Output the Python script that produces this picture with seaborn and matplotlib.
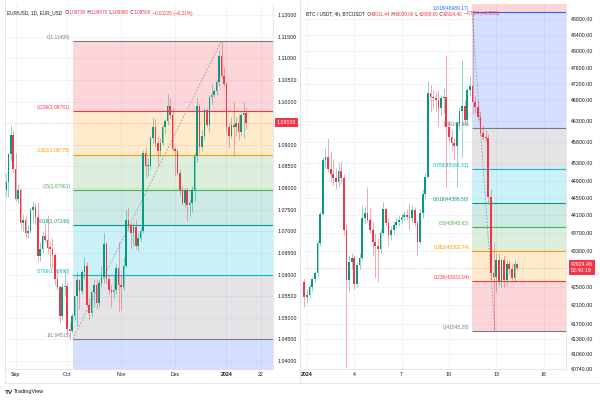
import numpy as np
import matplotlib
matplotlib.use("Agg")
import matplotlib.pyplot as plt
from matplotlib.ticker import NullLocator
import seaborn as sns

# ---------------- data : EUR/USD daily (Aug 28 2023 .. Jan 12 2024) ----------------
eur_open = [1.0795, 1.0815, 1.0878, 1.0923, 1.0845,
            1.0775, 1.0795, 1.0720, 1.0725, 1.0695, 1.0700, 1.0750, 1.0755, 1.0733, 1.0643,
            1.0658, 1.0690, 1.0680, 1.0662, 1.0660, 1.0645, 1.0590, 1.0570, 1.0505, 1.0570,
            1.0573, 1.0475, 1.0470, 1.0503, 1.0550, 1.0588, 1.0563, 1.0605, 1.0620, 1.0530,
            1.0510, 1.0560, 1.0575, 1.0535, 1.0580, 1.0595, 1.0670, 1.0590, 1.0565, 1.0560,
            1.0565, 1.0615, 1.0575, 1.0570, 1.0620, 1.0727, 1.0715, 1.0695, 1.0710, 1.0665,
            1.0685, 1.0700, 1.0880, 1.0850, 1.0852, 1.0915, 1.0940, 1.0905, 1.0885, 1.0905,
            1.0940, 1.0955, 1.0990, 1.0970, 1.0890, 1.0885, 1.0835, 1.0795, 1.0765, 1.0795,
            1.0760, 1.0765, 1.0795, 1.0875, 1.0990, 1.0895, 1.0920, 1.0980, 1.0945, 1.1010,
            1.1015, 1.1025, 1.1045, 1.1105, 1.1060, 1.1040, 1.0942, 1.0920, 1.0945, 1.0940,
            1.0950, 1.0930, 1.0970, 1.09736]
eur_high = [1.0835, 1.0882, 1.0946, 1.0932, 1.0882,
            1.0810, 1.0800, 1.0740, 1.0735, 1.0715, 1.0755, 1.0770, 1.0765, 1.0768, 1.0675,
            1.0700, 1.0718, 1.0737, 1.0675, 1.0685, 1.0650, 1.0610, 1.0575, 1.0580, 1.0610,
            1.0580, 1.0490, 1.0510, 1.0550, 1.0605, 1.0590, 1.0610, 1.0640, 1.0630, 1.0545,
            1.0565, 1.0590, 1.0590, 1.0590, 1.0620, 1.0695, 1.0675, 1.0600, 1.0575, 1.0600,
            1.0625, 1.0675, 1.0600, 1.0640, 1.0750, 1.0755, 1.0720, 1.0720, 1.0725, 1.0695,
            1.0710, 1.0887, 1.0895, 1.0870, 1.0920, 1.0965, 1.0960, 1.0920, 1.0915, 1.0945,
            1.0960, 1.1017, 1.1009, 1.0985, 1.0895, 1.0890, 1.0845, 1.0805, 1.0800, 1.0800,
            1.0775, 1.0805, 1.0880, 1.1009, 1.0995, 1.0935, 1.0985, 1.0985, 1.1015, 1.1040,
            1.1030, 1.1050, 1.1120, 1.1140, 1.1080, 1.1046, 1.0950, 1.0965, 1.0998, 1.0965,
            1.0970, 1.0975, 1.0999, 1.09870]
eur_low = [1.0780, 1.0780, 1.0862, 1.0835, 1.0770,
           1.0765, 1.0705, 1.0700, 1.0685, 1.0685, 1.0695, 1.0720, 1.0715, 1.0630, 1.0632,
           1.0650, 1.0675, 1.0650, 1.0615, 1.0615, 1.0575, 1.0565, 1.0488, 1.0495, 1.0550,
           1.0465, 1.0448, 1.0465, 1.0495, 1.0480, 1.0520, 1.0555, 1.0590, 1.0525, 1.0495,
           1.0505, 1.0525, 1.0520, 1.0525, 1.0570, 1.0580, 1.0580, 1.0555, 1.0525, 1.0545,
           1.0555, 1.0516, 1.0517, 1.0565, 1.0615, 1.0700, 1.0660, 1.0665, 1.0660, 1.0655,
           1.0675, 1.0695, 1.0825, 1.0828, 1.0845, 1.0905, 1.0895, 1.0852, 1.0875, 1.0900,
           1.0925, 1.0945, 1.0960, 1.0885, 1.0828, 1.0830, 1.0785, 1.0760, 1.0755, 1.0723,
           1.0735, 1.0745, 1.0770, 1.0860, 1.0880, 1.0885, 1.0910, 1.0940, 1.0930, 1.0995,
           1.1010, 1.1015, 1.1035, 1.1055, 1.1035, 1.0930, 1.0892, 1.0915, 1.0877, 1.0920,
           1.0910, 1.0920, 1.0915, 1.09360]
eur_close = [1.0815, 1.0878, 1.0923, 1.0845, 1.0775,
             1.0795, 1.0720, 1.0725, 1.0695, 1.0700, 1.0750, 1.0755, 1.0733, 1.0643, 1.0658,
             1.0690, 1.0680, 1.0662, 1.0660, 1.0645, 1.0590, 1.0570, 1.0505, 1.0570, 1.0573,
             1.0475, 1.0470, 1.0503, 1.0550, 1.0588, 1.0563, 1.0605, 1.0620, 1.0530, 1.0510,
             1.0560, 1.0575, 1.0535, 1.0580, 1.0595, 1.0670, 1.0590, 1.0565, 1.0560, 1.0565,
             1.0615, 1.0575, 1.0570, 1.0620, 1.0727, 1.0715, 1.0695, 1.0710, 1.0665, 1.0685,
             1.0700, 1.0880, 1.0850, 1.0852, 1.0915, 1.0940, 1.0905, 1.0885, 1.0905, 1.0940,
             1.0955, 1.0990, 1.0970, 1.0890, 1.0885, 1.0835, 1.0795, 1.0765, 1.0795, 1.0760,
             1.0765, 1.0795, 1.0875, 1.0990, 1.0895, 1.0920, 1.0980, 1.0945, 1.1010, 1.1015,
             1.1025, 1.1045, 1.1105, 1.1060, 1.1040, 1.0942, 1.0920, 1.0945, 1.0940, 1.0950,
             1.0930, 1.0970, 1.0974, 1.09508]
eur_first_index = -4          # Aug 28 is 4 trading days before Sep 1
eur_tick_pos = [0, 21, 43, 65, 86, 100]
eur_tick_labels = ["Sep", "Oct", "Nov", "Dec", "2024", "22"]
eur_yticks = [1.040, 1.045, 1.050, 1.055, 1.060, 1.065, 1.070, 1.075, 1.080, 1.085,
              1.090, 1.100, 1.105, 1.110, 1.115, 1.120]
eur_fib_ratios = [0, 0.236, 0.382, 0.5, 0.618, 0.786, 1, 1.618]
eur_fib_values = [1.11408, 1.09781, 1.08775, 1.07961, 1.07148, 1.05990, 1.04515, 1.00255]
eur_fib_anchor = [23.4, 84]          # bar positions of the two fib anchors
eur_last = 1.09508
eur_header = [("EUR/USD, 1D, EUR_USD ", "d"), (" O", "d"), ("1.09736", "r"), (" H", "d"),
              ("1.09870", "r"), (" L", "d"), ("1.09360", "r"), (" C", "d"),
              ("1.09508", "r"), (" \u22120.00228 (\u22120.21%)", "r")]

# ---------------- data : BTC/USDT 4h (Dec 31 20:00 .. Jan 14 08:00) ----------------
btc_open = [42620, 42290, 42320, 42490, 42680, 42800, 43470, 44130, 45380, 45460,
            45180, 45050, 44950, 44870, 45120, 44950, 43780, 42650, 43060, 43150,
            42570, 42980, 43150, 44040, 44150, 44000, 43770, 43500, 43400, 43350,
            43700, 44250, 43920, 43660, 43780, 43885, 43960, 44000, 44075, 44110,
            44075, 44040, 44225, 43920, 43510, 44150, 44600, 44990, 46980, 46890,
            46850, 46810, 46610, 46850, 46890, 46150, 45930, 45770, 45700, 46260,
            46550, 46670, 46330, 47050, 47150, 46770, 46650, 46400, 46020, 45930,
            45900, 44530, 42800, 42720, 43100, 42620, 43100, 42655, 43000, 42900,
            42690, 43011.44]
btc_high = [42700, 42450, 42560, 42720, 42860, 43550, 44200, 45450, 45660, 45900,
            45600, 45400, 45200, 45300, 45350, 45050, 43900, 43200, 43250, 43200,
            43050, 43250, 44340, 44300, 44750, 44300, 43950, 43700, 43600, 43800,
            44400, 44300, 44050, 43850, 43950, 44050, 44100, 44150, 44200, 44250,
            44380, 44350, 44300, 44000, 44250, 44700, 45100, 47260, 47180, 47050,
            47000, 47053, 46950, 47100, 47900, 46300, 46100, 45900, 46300, 46650,
            47800, 46800, 47100, 47400, 49048, 46900, 46800, 46550, 46200, 46100,
            46000, 44700, 43470, 43250, 43250, 43150, 43200, 43100, 43100, 43000,
            43100, 43030.00]
btc_low = [42070, 42180, 42250, 42420, 42600, 42750, 43400, 44100, 45200, 45100,
           44900, 44800, 44700, 44750, 44850, 43650, 40750, 42400, 42900, 42450,
           42500, 42900, 43100, 43900, 43950, 43700, 43180, 42700, 42600, 43250,
           43650, 43850, 43400, 43550, 43650, 43800, 43850, 43900, 43980, 44000,
           43770, 43950, 43850, 43200, 43450, 44050, 44500, 44950, 46510, 46600,
           46550, 46190, 46450, 46500, 44760, 45800, 45600, 45380, 44760, 46100,
           45450, 46200, 46200, 46900, 46500, 46500, 46300, 45950, 45850, 45800,
           44400, 42600, 41545, 42400, 42550, 42500, 42500, 42550, 42800, 42650,
           42600, 42888.00]
btc_close = [42290, 42320, 42490, 42680, 42800, 43470, 44130, 45380, 45460, 45180,
             45050, 44950, 44870, 45120, 44950, 43780, 42650, 43060, 43150, 42570,
             42980, 43150, 44040, 44150, 44000, 43770, 43500, 43400, 43350, 43700,
             44250, 43920, 43660, 43780, 43885, 43960, 44000, 44075, 44110, 44075,
             44040, 44225, 43920, 43510, 44150, 44600, 44990, 46980, 46890, 46850,
             46810, 46610, 46850, 46890, 46150, 45930, 45770, 45700, 46260, 46550,
             46670, 46330, 47050, 47150, 46770, 46650, 46400, 46020, 45930, 45900,
             44530, 42800, 42720, 43100, 42620, 43100, 42655, 43000, 42900, 42690,
             43011.44, 42924.40]
btc_first_index = -1          # first bar: Dec 31 20:00 (index 0 = Jan 1 00:00)
btc_tick_pos = [0, 18, 36, 54, 72, 90]
btc_tick_labels = ["2024", "4", "7", "10", "13", "16"]
btc_yticks = [48800, 48400, 48000, 47600, 47200, 46800, 46300, 45800, 45300, 44900,
              44500, 44100, 43700, 43300, 42500, 42100, 41700, 41380, 41060, 40740]
btc_fib_ratios = [0, 0.236, 0.382, 0.5, 0.618, 0.786, 1, 1.618, 2.618]
btc_fib_values = [41545.28, 42631.04, 43302.74, 43845.62, 44388.50, 45161.41,
                  46145.96, 48989.17, 53590.06]
btc_fib_anchor = [62.8, 71.5]
btc_last = 42924.40
btc_header = [("BTC / USDT, 4h, BTCUSDT ", "d"), (" O", "d"), ("43011.44", "r"), (" H", "d"),
              ("43030.00", "r"), (" L", "d"), ("42888.00", "r"), (" C", "d"),
              ("42924.40", "r"), (" \u221287.04 (\u22120.20%)", "r")]

# ---------------- style ----------------
sns.set_theme(style="white")
plt.rcParams["font.family"] = ["Liberation Sans", "DejaVu Sans"]

GREEN = "#089981"
RED = "#f23645"
TXT = "#131722"
FIB_COL = {0: "#787b86", 0.236: "#f23645", 0.382: "#ff9800", 0.5: "#4caf50",
           0.618: "#089981", 0.786: "#00bcd4", 1: "#787b86", 1.618: "#2962ff",
           2.618: "#f23645"}

W, H = 600, 400
fig = plt.figure(figsize=(6, 4), dpi=100)
fig.patch.set_facecolor("white")


def add_ax(x0, y0, x1, y1):
    return fig.add_axes([x0 / W, 1 - y1 / H, (x1 - x0) / W, (y1 - y0) / H])


axL = add_ax(4.5, 4, 273, 369)
axR = add_ax(302, 4, 566, 369)

FS = 3.8
HFS = 3.45


def style_axis(ax, ypad):
    for s in ("top", "left"):
        ax.spines[s].set_visible(False)
    for s in ("right", "bottom"):
        ax.spines[s].set_color("#e0e3eb")
        ax.spines[s].set_linewidth(0.6)
    ax.yaxis.tick_right()
    ax.tick_params(axis="both", length=0, labelsize=FS, labelcolor=TXT)
    ax.tick_params(axis="y", pad=ypad)
    ax.tick_params(axis="x", pad=2.5)
    ax.grid(True, color="#eef1f7", lw=0.6)
    ax.set_axisbelow(True)


def draw_candles(ax, first, o, h, l, c, width):
    o, h, l, c = map(np.asarray, (o, h, l, c))
    x = np.arange(len(o)) + first
    col = np.where(c >= o, GREEN, RED)
    ax.vlines(x, l, h, colors=col, lw=0.5, alpha=0.6, zorder=3)
    bottom = np.minimum(o, c)
    height = np.maximum(np.abs(c - o), bottom * 0.00025)
    ax.bar(x, height, bottom=bottom, width=width, color=col, lw=0, zorder=4)


def draw_fib(ax, ratios, values, x0, x1, fmt):
    for i in range(len(values) - 1):
        ax.fill_between([x0, x1], values[i], values[i + 1],
                        color=FIB_COL[ratios[i + 1]], alpha=0.2, lw=0, zorder=1)
    for r, v in zip(ratios, values):
        ax.hlines(v, x0, x1, colors=FIB_COL[r], lw=0.8, zorder=1.5)
        ax.annotate(f"{r:g}({v:{fmt}})", xy=(x0, v), xytext=(-2, 0.8),
                    textcoords="offset points", ha="right", va="bottom",
                    fontsize=3.5, color=FIB_COL[r], zorder=2)


def header(ax, x_frac, y_frac, pieces):
    prev = None
    for s, c in pieces:
        colr = RED if c == "r" else TXT
        if prev is None:
            prev = ax.text(x_frac, y_frac, s, transform=ax.transAxes, ha="left",
                           va="center", fontsize=HFS, color=colr, zorder=12)
        else:
            prev = ax.annotate(s, xy=(1, 0.5), xycoords=prev, ha="left", va="center",
                               fontsize=HFS, color=colr, zorder=12, annotation_clip=False)


# ---------------- left: EUR/USD ----------------
style_axis(axL, 3.0)
axL.set_xlim(-4.57, 105.0)
axL.set_ylim(1.03815, 1.12256)
draw_fib(axL, eur_fib_ratios, eur_fib_values, eur_fib_anchor[0], 105.0, ".5f")
axL.plot(eur_fib_anchor, [eur_fib_values[6], eur_fib_values[0]], color="#9598a1",
         lw=0.6, ls=(0, (2, 2)), zorder=2.5)
draw_candles(axL, eur_first_index, eur_open, eur_high, eur_low, eur_close, 0.62)
axL.axhline(eur_last, color=RED, lw=0.5, ls=(0, (1, 1.5)), alpha=0.5, zorder=2)
axL.set_yticks(eur_yticks)
axL.set_yticklabels([f"{v:.5f}" for v in eur_yticks])
axL.set_xticks(eur_tick_pos)
axL.set_xticklabels(eur_tick_labels)
axL.text((277 - 4.5) / 268.5, eur_last, f"{eur_last:.5f}", transform=axL.get_yaxis_transform(),
         ha="left", va="center", fontsize=FS, color="white", zorder=12, clip_on=False,
         bbox=dict(boxstyle="square,pad=0.35", fc=RED, ec="none"))
header(axL, (7 - 4.5) / 268.5, 1 - (13 - 4) / 365, eur_header)

# ---------------- right: BTC/USDT ----------------
style_axis(axR, 3.6)
axR.set_yscale("log")
axR.set_xlim(-1.9, 98.55)
axR.set_ylim(40738, 49189)
draw_fib(axR, btc_fib_ratios, btc_fib_values, btc_fib_anchor[0], 98.55, ".2f")
axR.plot(btc_fib_anchor, [btc_fib_values[7], btc_fib_values[0]], color="#9598a1",
         lw=0.6, ls=(0, (2, 2)), zorder=2.5)
draw_candles(axR, btc_first_index, btc_open, btc_high, btc_low, btc_close, 0.66)
axR.axhline(btc_last, color=RED, lw=0.5, ls=(0, (1, 1.5)), alpha=0.5, zorder=2)
axR.yaxis.set_minor_locator(NullLocator())
axR.set_yticks(btc_yticks)
axR.set_yticklabels([f"{v:.2f}" for v in btc_yticks])
axR.yaxis.set_minor_locator(NullLocator())
axR.set_xticks(btc_tick_pos)
axR.set_xticklabels(btc_tick_labels)
axR.text((571 - 302) / 264, btc_last, f"{btc_last:.2f}\n02:40:19", transform=axR.get_yaxis_transform(),
         ha="left", va="center", fontsize=FS, color="white", zorder=12, clip_on=False,
         linespacing=1.3, bbox=dict(boxstyle="square,pad=0.35", fc=RED, ec="none"))
header(axR, (306 - 302) / 264, 1 - (14 - 4) / 365, btc_header)

for ax in (axL, axR):
    for lab in ax.get_xticklabels():
        if lab.get_text() == "2024":
            lab.set_fontweight("bold")

# ---------------- frame lines & branding ----------------
fig.add_artist(plt.Line2D([300 / W, 300 / W], [1 - 383 / H, 1], color="#e0e3eb", lw=0.8))
fig.add_artist(plt.Line2D([4.5 / W, 599 / W], [1 - 383 / H, 1 - 383 / H], color="#e0e3eb", lw=0.6))
fig.add_artist(plt.Line2D([4.5 / W, 4.5 / W], [1 - 383 / H, 1], color="#e0e3eb", lw=0.6))
fig.text(5 / W, 1 - 392 / H, "TV", fontsize=4.6, fontweight="bold", color=TXT, va="center")
fig.text(14 / W, 1 - 392 / H, "TradingView", fontsize=4.0, color=TXT, va="center")

fig.savefig("out.png", dpi=100, facecolor="white")
